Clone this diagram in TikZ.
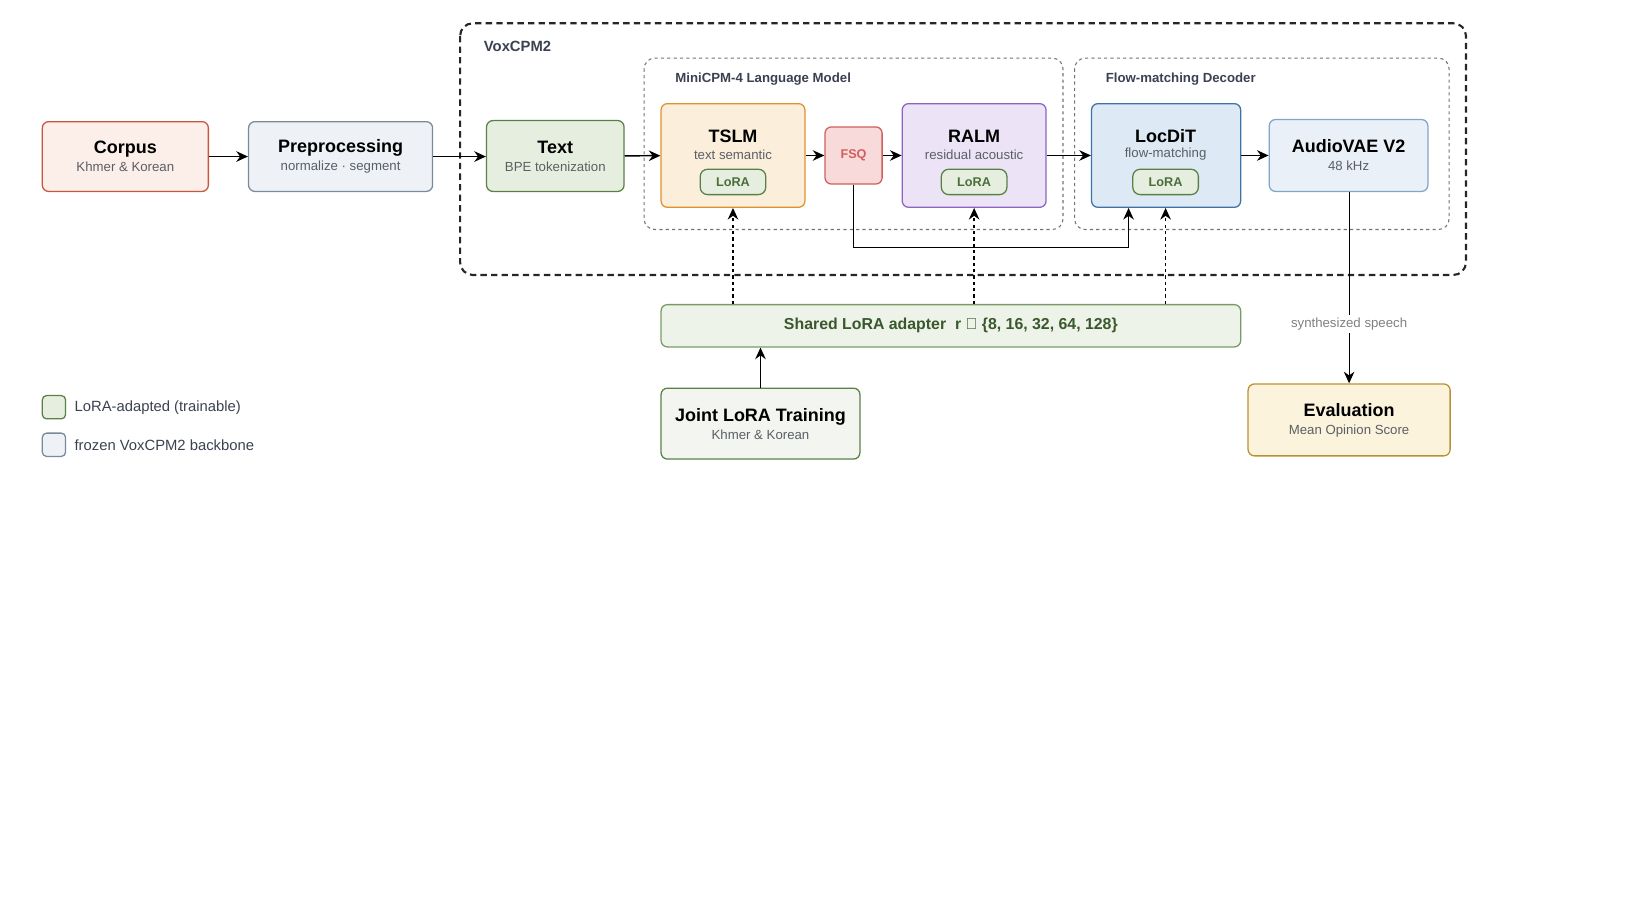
\documentclass[tikz,border=0pt]{standalone}
\usepackage{fontspec}
\setmainfont{Liberation Sans}
\usetikzlibrary{arrows.meta, positioning, calc}

\definecolor{subgray}{HTML}{5A5F66}
\definecolor{labgray}{HTML}{3A4150}
\definecolor{loragreen}{HTML}{4A6E38}
\definecolor{cdraw}{HTML}{C8553D}\definecolor{cfill}{HTML}{FCEEE9}
\definecolor{pdraw}{HTML}{7B8A9B}\definecolor{pfill}{HTML}{EEF2F6}
\definecolor{gdraw}{HTML}{5A8048}\definecolor{gfill}{HTML}{E6EFDF}
\definecolor{odraw}{HTML}{E0912D}\definecolor{ofill}{HTML}{FBEFDB}
\definecolor{rdraw}{HTML}{D0605E}\definecolor{rfill}{HTML}{F8DADA}
\definecolor{vdraw}{HTML}{8E63C4}\definecolor{vfill}{HTML}{ECE4F6}
\definecolor{bdraw}{HTML}{3F73A8}\definecolor{bfill}{HTML}{DDE9F4}
\definecolor{ldraw}{HTML}{7FA6C8}\definecolor{lfill}{HTML}{E9F0F8}
\definecolor{sdraw}{HTML}{7A9A65}\definecolor{sfill}{HTML}{EDF3E8}
\definecolor{jfill}{HTML}{F3F6F0}
\definecolor{ydraw}{HTML}{B99133}\definecolor{yfill}{HTML}{FBF3DC}
\newcommand\ttlf{\fontsize{17}{20}\selectfont\bfseries}
\newcommand\subl[1]{{\fontsize{12.5}{14}\selectfont\mdseries\color{subgray}#1}}

\begin{document}
\begin{tikzpicture}[x=1pt, y=-1pt,
  box/.style = {draw, rounded corners=6, line width=1.2, align=center, inner sep=0,
    font=\fontsize{12.5}{17}\selectfont},
  pill/.style = {draw=gdraw, fill=gfill, rounded corners=7, line width=1.2,
    minimum width=62, minimum height=24, inner sep=0,
    font=\fontsize{12}{12}\selectfont\bfseries, text=loragreen},
  grp/.style = {draw=gray!90!black, dashed, rounded corners=10, line width=1},
  outer/.style = {draw=black!85, dash pattern=on 6pt off 4pt, rounded corners=12, line width=2},
  grplab/.style = {anchor=west, text=labgray, font=\fontsize{12.5}{13}\selectfont\bfseries},
  ttl/.style = {font=\ttlf},
  flow/.style = {-{Stealth[length=11, width=10]}, line width=1.4},
  lora/.style = {-{Stealth[length=11, width=10]}, line width=1.3, dashed},
  ]
  \useasboundingbox (0,0) rectangle (1560,851);

  % containers
  \draw[outer] (435,22) rectangle (1386,260);
  \node[grplab, font=\fontsize{14}{14}\selectfont\bfseries] (voxlab) at (454,44) {VoxCPM2};
  \draw[grp] (609,55) rectangle (1005,217);
  \node[grplab] (minilab) at (635,75) {MiniCPM-4 Language Model};
  \draw[grp] (1016,55) rectangle (1370,217);
  \node[grplab] (flowlab) at (1042,75) {Flow-matching Decoder};

  % pipeline
  \node[box, draw=cdraw, fill=cfill, minimum width=157, minimum height=66] (corpus) at (118.5,148)
    {{\ttlf Corpus}\\\subl{Khmer \& Korean}};
  \node[box, draw=pdraw, fill=pfill, minimum width=174, minimum height=66] (prep) at (322,148)
    {{\ttlf Preprocessing}\\\subl{normalize · segment}};
  \node[box, draw=gdraw, fill=gfill, minimum width=130, minimum height=67] (text) at (525,147.5)
    {{\ttlf Text}\\\subl{BPE tokenization}};
  \node[box, draw=odraw, fill=ofill, minimum width=136, minimum height=98] (tslm) at (693,147) {};
  \node[ttl] (tslmt) at (693,129) {TSLM};
  \node (tslms) at (693,146) {\subl{text semantic}};
  \node[pill] (tslml) at (693,172) {LoRA};
  \node[box, draw=rdraw, fill=rfill, minimum width=54, minimum height=54,
    font=\fontsize{12}{12}\selectfont\bfseries, text=rdraw] (fsq) at (807,147) {FSQ};
  \node[box, draw=vdraw, fill=vfill, minimum width=136, minimum height=98] (ralm) at (921,147) {};
  \node[ttl] (ralmt) at (921,129) {RALM};
  \node (ralms) at (921,146) {\subl{residual acoustic}};
  \node[pill] (ralml) at (921,172) {LoRA};
  \node[box, draw=bdraw, fill=bfill, minimum width=141, minimum height=98] (locdit) at (1102.5,147) {};
  \node[ttl] (locditt) at (1102,129) {LocDiT};
  \node (locdits) at (1102,146) {\subl{flow-matching}};
  \node[pill] (locditl) at (1102,172) {LoRA};
  \node[box, draw=ldraw, fill=lfill, minimum width=150, minimum height=68] (vae) at (1275,147)
    {{\ttlf AudioVAE V2}\\\subl{48 kHz}};

  % training side
  \node[box, draw=sdraw, fill=sfill, minimum width=548, minimum height=40, text=loragreen!80!black,
    font=\fontsize{15}{15}\selectfont\bfseries] (shared) at (899,308) {Shared LoRA adapter\ \ r ∈ \{8, 16, 32, 64, 128\}};
  \node[box, draw=gdraw, fill=jfill, minimum width=188, minimum height=67] (joint) at (719,400.5)
    {{\ttlf Joint LoRA Training}\\\subl{Khmer \& Korean}};
  \node[box, draw=ydraw, fill=yfill, minimum width=191, minimum height=68] (eval) at (1275.5,397)
    {{\ttlf Evaluation}\\\subl{Mean Opinion Score}};

  % legend
  \node[box, draw=gdraw, fill=gfill, minimum width=22, minimum height=22, rounded corners=4] (leg1) at (51,385) {};
  \node[anchor=west, font=\fontsize{14}{14}\selectfont, text=labgray] (leg1t) at (67,385) {LoRA-adapted (trainable)};
  \node[box, draw=pdraw, fill=pfill, minimum width=22, minimum height=22, rounded corners=4] (leg2) at (51,420.5) {};
  \node[anchor=west, font=\fontsize{14}{14}\selectfont, text=labgray] (leg2t) at (67,420.5) {frozen VoxCPM2 backbone};

  \draw[flow] (corpus) -- (prep);
  \draw[flow] (prep.east) -- (text.west |- prep.east);
  \draw[flow] (text) -- (tslm);
  \draw[flow] (tslm) -- (fsq);
  \draw[flow] (fsq) -- (ralm);
  \draw[flow] (ralm) -- (locdit);
  \draw[flow] (locdit) -- (vae);
  \draw[flow] (fsq.south) |- (1067,234) -- ($(locdit.south)+(-35.5,0)$);
  \draw[lora] (shared.north -| tslm) -- (tslm.south);
  \draw[lora] (shared.north -| ralm) -- (ralm.south);
  \draw[lora] (shared.north -| locditl) -- (locditl |- locdit.south);
  \draw[flow] (joint) -- (joint |- shared.south);
  \draw[flow, line width=1] (vae.south -| eval) -- node[pos=0.69, fill=white, inner sep=3, text=gray,
    font=\fontsize{12.5}{13}\selectfont] (speech) {synthesized speech} (eval);
\end{tikzpicture}
\end{document}
